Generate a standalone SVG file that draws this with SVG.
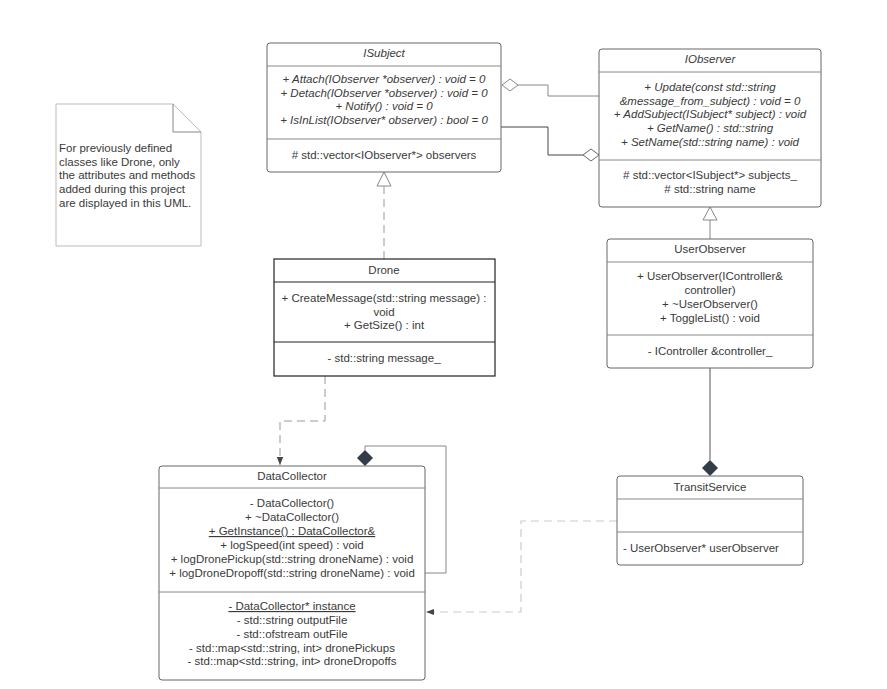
<svg xmlns="http://www.w3.org/2000/svg" width="887" height="689" viewBox="0 0 887 689">
<defs>
<style>
text{font-family:"Liberation Sans",Arial,sans-serif;font-size:11.5px;fill:#3a3a3a;}
.c{text-anchor:middle;}
.i{font-style:italic;}
.u{text-decoration:underline;}
.box{fill:#fff;stroke:#666;stroke-width:1;}
.dk{fill:#fff;stroke:#222;stroke-width:1.2;}
.sep{stroke:#888;stroke-width:1;}
.ln{fill:none;stroke:#888;stroke-width:1;}
.dash{fill:none;stroke:#999;stroke-width:1;stroke-dasharray:8 5;}
.dash2{fill:none;stroke:#ccc;stroke-width:1.2;stroke-dasharray:8 5;}
</style>
<marker id="arr" viewBox="0 0 10 10" refX="10" refY="5" markerWidth="8" markerHeight="8" markerUnits="userSpaceOnUse" orient="auto"><path d="M0,1 L10,5 L0,9 Z" fill="#444"/></marker>
</defs>
<rect width="887" height="689" fill="#fff"/>

<g id="connectors">
<path class="ln" d="M518,85 H548 V96 H599"/>
<path d="M502,85 L510,79 L518,85 L510,91 Z" fill="#fff" stroke="#888"/>
<path class="ln" style="stroke:#444" d="M501,127 H548 V155 H583"/>
<path d="M583,155 L591,149 L599,155 L591,161 Z" fill="#fff" stroke="#666"/>
<path class="dash" d="M384,259 V186"/>
<path d="M384,172 L391,186 L377,186 Z" fill="#fff" stroke="#888"/>
<path class="ln" d="M710,239 V220"/>
<path d="M710,207 L717,220 L703,220 Z" fill="#fff" stroke="#888"/>
<path class="dash" d="M325,376 V421 H280 V465" marker-end="url(#arr)"/>
<path class="ln" d="M425,573 H446 V446 H365 V450"/>
<path d="M365,450 L373,458 L365,466 L357,458 Z" fill="#333d4a"/>
<path class="ln" style="stroke:#555" d="M710,368 V460"/>
<path d="M710,460 L718,468 L710,476 L702,468 Z" fill="#333d4a"/>
<path class="dash2" d="M617,521 H521 V612 H426"/>
<path d="M426,612 L434,609 L434,615 Z" fill="#444"/>
</g>

<g id="ISubject">
<rect class="box" x="267" y="43" width="234" height="129" rx="3"/>
<line class="sep" x1="267" y1="66" x2="501" y2="66"/>
<line class="sep" x1="267" y1="139" x2="501" y2="139"/>
<text class="c i" x="384" y="57">ISubject</text>
<text class="c i" x="384" y="83">+ Attach(IObserver *observer) : void = 0</text>
<text class="c i" x="384" y="97">+ Detach(IObserver *observer) : void = 0</text>
<text class="c i" x="384" y="110">+ Notify() : void = 0</text>
<text class="c i" x="384" y="124">+ IsInList(IObserver* observer) : bool = 0</text>
<text class="c" x="384" y="159"># std::vector&lt;IObserver*&gt; observers</text>
</g>

<g id="IObserver">
<rect class="box" x="599" y="49" width="222" height="158" rx="3"/>
<line class="sep" x1="599" y1="72" x2="821" y2="72"/>
<line class="sep" x1="599" y1="160" x2="821" y2="160"/>
<text class="c i" x="710" y="63">IObserver</text>
<text class="c i" x="710" y="91">+ Update(const std::string</text>
<text class="c i" x="710" y="105">&amp;message_from_subject) : void = 0</text>
<text class="c i" x="710" y="118">+ AddSubject(ISubject* subject) : void</text>
<text class="c i" x="710" y="132">+ GetName() : std::string</text>
<text class="c i" x="710" y="146">+ SetName(std::string name) : void</text>
<text class="c" x="710" y="179"># std::vector&lt;ISubject*&gt; subjects_</text>
<text class="c" x="710" y="193"># std::string name</text>
</g>

<g id="note">
<path d="M56,104 H173 L201,132 V246 H56 Z" fill="#fff" stroke="#bbb"/>
<path d="M173,104 V132 H201" fill="none" stroke="#888"/>
<text x="59" y="152">For previously defined</text>
<text x="59" y="166">classes like Drone, only</text>
<text x="59" y="179">the attributes and methods</text>
<text x="59" y="193">added during this project</text>
<text x="59" y="207">are displayed in this UML.</text>
</g>

<g id="Drone">
<rect class="dk" x="274" y="259" width="221" height="117"/>
<line class="dk" x1="274" y1="282" x2="495" y2="282"/>
<line class="dk" x1="274" y1="342" x2="495" y2="342"/>
<text class="c" x="384" y="274">Drone</text>
<text class="c" x="384" y="302">+ CreateMessage(std::string message) :</text>
<text class="c" x="384" y="316">void</text>
<text class="c" x="384" y="329">+ GetSize() : int</text>
<text class="c" x="384" y="362">- std::string message_</text>
</g>

<g id="UserObserver">
<rect class="box" x="607" y="239" width="206" height="129" rx="3"/>
<line class="sep" x1="607" y1="262" x2="813" y2="262"/>
<line class="sep" x1="607" y1="335" x2="813" y2="335"/>
<text class="c" x="710" y="253">UserObserver</text>
<text class="c" x="710" y="280">+ UserObserver(IController&amp;</text>
<text class="c" x="710" y="294">controller)</text>
<text class="c" x="710" y="308">+ ~UserObserver()</text>
<text class="c" x="710" y="322">+ ToggleList() : void</text>
<text class="c" x="710" y="355">- IController &amp;controller_</text>
</g>

<g id="DataCollector">
<rect class="box" x="159" y="466" width="266" height="214" rx="3"/>
<line class="sep" x1="159" y1="488" x2="425" y2="488"/>
<line class="sep" x1="159" y1="592" x2="425" y2="592"/>
<text class="c" x="292" y="480">DataCollector</text>
<text class="c" x="292" y="507">- DataCollector()</text>
<text class="c" x="292" y="521">+ ~DataCollector()</text>
<text class="c u" x="292" y="535">+ GetInstance() : DataCollector&amp;</text>
<text class="c" x="292" y="549">+ logSpeed(int speed) : void</text>
<text class="c" x="292" y="563">+ logDronePickup(std::string droneName) : void</text>
<text class="c" x="292" y="577">+ logDroneDropoff(std::string droneName) : void</text>
<text class="c u" x="292" y="610">- DataCollector* instance</text>
<text class="c" x="292" y="624">- std::string outputFile</text>
<text class="c" x="292" y="638">- std::ofstream outFile</text>
<text class="c" x="292" y="652">- std::map&lt;std::string, int&gt; dronePickups</text>
<text class="c" x="292" y="665">- std::map&lt;std::string, int&gt; droneDropoffs</text>
</g>

<g id="TransitService">
<rect class="box" x="617" y="476" width="186" height="89" rx="3"/>
<line class="sep" x1="617" y1="499" x2="803" y2="499"/>
<line class="sep" x1="617" y1="532" x2="803" y2="532"/>
<text class="c" x="710" y="491">TransitService</text>
<text x="623" y="552">- UserObserver* userObserver</text>
</g>
</svg>
